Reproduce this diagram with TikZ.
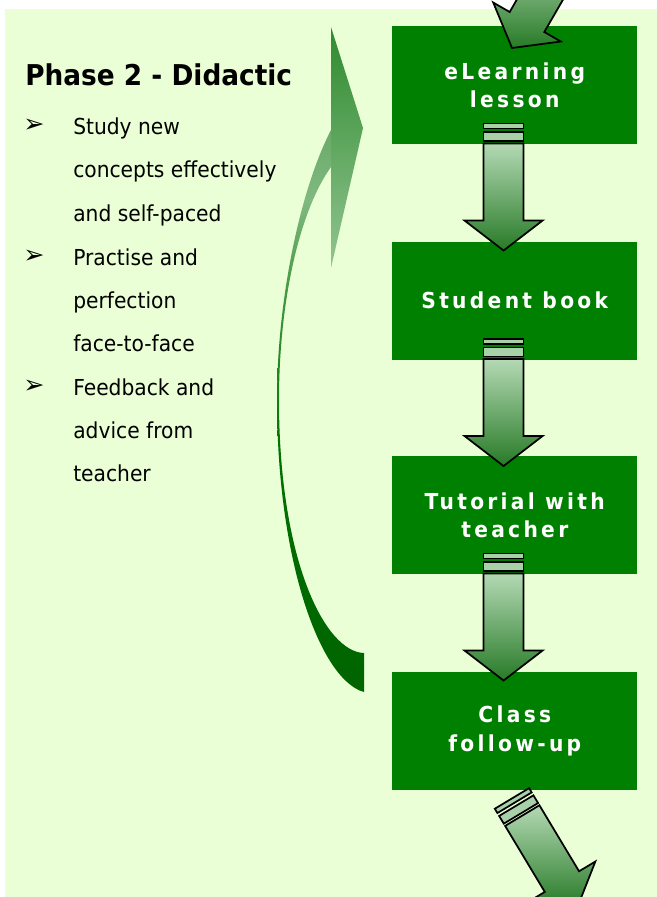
\documentclass[tikz,border=0pt]{standalone}
\usepackage{fontspec}
\setmainfont{DejaVu Sans}
\newfontfamily\tah{DejaVu Sans}[FakeStretch=0.92]
\newfontfamily\tahsp{DejaVu Sans}[FakeStretch=0.92,LetterSpace=15]
\newfontfamily\dingfont{DejaVu Sans}
\definecolor{bg}{HTML}{EAFFD5}
\definecolor{boxgreen}{HTML}{008000}
\definecolor{arlight}{HTML}{B4D9B4}
\definecolor{ardark}{HTML}{277A27}
\definecolor{arbar}{HTML}{A9D1A9}
\definecolor{c1}{HTML}{6AAA6A}
\definecolor{c2}{HTML}{80B980}
\definecolor{c3}{HTML}{4C9C4C}
\definecolor{c4}{HTML}{2A8A2A}
\definecolor{c5}{HTML}{007200}
\definecolor{c6}{HTML}{006400}
\definecolor{h1}{HTML}{2F8A2F}
\definecolor{h2}{HTML}{92C592}
\pgfdeclareverticalshading{curvshade}{100bp}{color(0bp)=(c6); color(25bp)=(c6); color(46.5bp)=(c5); color(55.4bp)=(c4); color(61.7bp)=(c3); color(68.8bp)=(c2); color(75bp)=(c1); color(100bp)=(c1)}
\tikzset{
  stagebox/.style={draw=none, fill=boxgreen, minimum width=183.75pt, minimum height=88.5pt,
    inner sep=0pt, anchor=north west, text=white, align=center,
    font=\tahsp\bfseries\fontsize{16.5pt}{21.5pt}\selectfont},
  bodytext/.style={anchor=base west, inner sep=0pt, font=\tah\fontsize{16.5pt}{20pt}\selectfont},
  bullettext/.style={anchor=center, inner sep=0pt, font=\dingfont\fontsize{19pt}{20pt}\selectfont},
  grarrow/.pic={
    \shade[draw=black, line width=1.3pt, top color=arlight, bottom color=ardark, line join=miter]
      (-20,20) -- (-20,97) -- (-39,97) -- (0,127) -- (39,97) -- (20,97) -- (20,20) -- cycle;
    \draw[fill=arbar, line width=1.3pt] (-20,0) rectangle (20,5);
    \draw[fill=arbar, line width=1.3pt] (-20,8.4) rectangle (20,17.4);
  }
}
\begin{document}
\begin{tikzpicture}[x=0.75pt, y=-0.75pt]
\useasboundingbox (0,0) rectangle (657,897);
\clip (0,0) rectangle (657,897);
\fill[white] (0,0) rectangle (657,897);
\fill[bg] (5,9) rectangle (657,897);

% curved return arrow
\shade[shading=curvshade]
  (331,130) .. controls (300,190) and (277,300) .. (277,400)
  .. controls (277,560) and (320,680) .. (364,692)
  -- (364,653)
  .. controls (325,652) and (279,560) .. (279,400)
  .. controls (279,300) and (300,210) .. (331,167) -- cycle;
\shade[top color=h1, bottom color=h2]
  (331,27) -- (363,128) -- (331,268) -- cycle;

% boxes
\node[stagebox] (b1) at (392,26) {eLearning\\lesson};
\node[stagebox] (b2) at (392,241.5) {Student book};
\node[stagebox] (b3) at (392,456) {Tutorial with\\teacher};
\node[stagebox] (b4) at (392,671.5) {Class\\follow-up};

% incoming arrow
\coordinate (inA) at (575.5,-62);
\pic[rotate=-30] at (inA) {grarrow};
% arrows between boxes
\pic at ([xshift=-8.4pt, yshift=15.75pt]b1.south) {grarrow};
\pic at ([xshift=-8.4pt, yshift=15.75pt]b2.south) {grarrow};
\pic at ([xshift=-8.4pt, yshift=15.75pt]b3.south) {grarrow};
% outgoing arrow
\pic[rotate=31] at ([xshift=-2.1pt, yshift=-6.3pt]b4.south) {grarrow};

% left text
\node[anchor=base west, inner sep=0pt, font=\tah\bfseries\fontsize{21.5pt}{25pt}\selectfont] (title) at (25,85.7) {Phase 2 - Didactic};
\node[bullettext] (u1) at (34,125.5) {➢};
\node[bullettext] (u2) at (34,256.5) {➢};
\node[bullettext] (u3) at (34,386.5) {➢};
\node[bodytext] (t1) at (73,134.3) {Study new};
\node[bodytext] (t2) at (73,177.7) {concepts effectively};
\node[bodytext] (t3) at (73,221) {and self-paced};
\node[bodytext] (t4) at (73,265) {Practise and};
\node[bodytext] (t5) at (73,308) {perfection};
\node[bodytext] (t6) at (73,351.7) {face-to-face};
\node[bodytext] (t7) at (73,395) {Feedback and};
\node[bodytext] (t8) at (73,438) {advice from};
\node[bodytext] (t9) at (73,481.7) {teacher};
\end{tikzpicture}
\end{document}
